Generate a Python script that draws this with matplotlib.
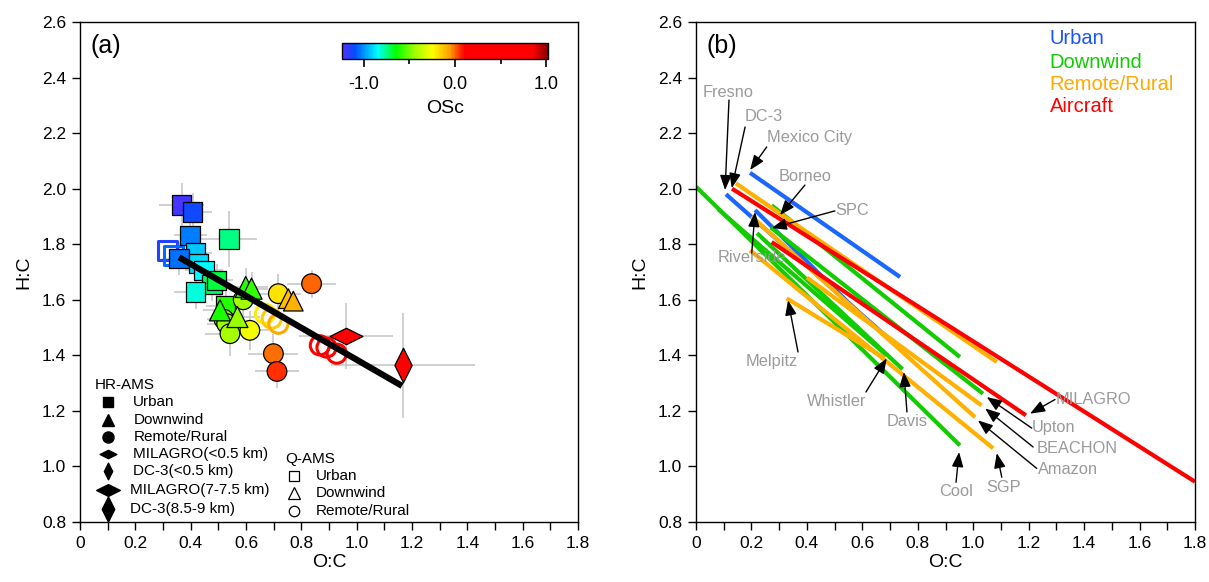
import matplotlib
matplotlib.use("Agg")
import matplotlib.pyplot as plt
import numpy as np
from matplotlib.colors import LinearSegmentedColormap, Normalize
from matplotlib.path import Path
from matplotlib.ticker import FixedLocator

plt.rcParams['font.family'] = ['Liberation Sans', 'DejaVu Sans']

# ---------------- Panel (a) data ----------------
# HR-AMS Urban (filled squares)
urb_oc = [0.367, 0.407, 0.398, 0.538, 0.418, 0.358, 0.428, 0.448, 0.476, 0.494, 0.418, 0.526]
urb_hc = [1.941, 1.916, 1.832, 1.818, 1.770, 1.748, 1.730, 1.706, 1.655, 1.670, 1.628, 1.577]
urb_osc = [-1.20, -1.12, -1.03, -0.75, -0.93, -1.05, -0.90, -0.85, -0.72, -0.70, -0.82, -0.60]
urb_xe = [0.08, 0.07, 0.06, 0.10, 0.06, 0.06, 0.06, 0.07, 0.07, 0.06, 0.08, 0.07]
urb_ye = [0.08, 0.07, 0.07, 0.10, 0.06, 0.06, 0.06, 0.06, 0.06, 0.06, 0.06, 0.07]
# Q-AMS Urban (open squares)
qurb_oc = [0.316, 0.337]
qurb_hc = [1.778, 1.760]
qurb_osc = [-1.15, -1.06]
# HR-AMS Downwind (filled triangles)
dw_oc = [0.599, 0.620, 0.506, 0.569]
dw_hc = [1.646, 1.640, 1.562, 1.538]
dw_osc = [-0.60, -0.58, -0.62, -0.45]
dw_xe = [0.08, 0.06, 0.06, 0.08]
dw_ye = [0.07, 0.06, 0.06, 0.07]
# Q-AMS Downwind triangles
qdw_oc = [0.753, 0.771]
qdw_hc = [1.604, 1.595]
qdw_osc = [-0.12, -0.10]
# HR-AMS Remote/Rural (filled circles)
rr_oc = [0.590, 0.520, 0.530, 0.542, 0.614, 0.717, 0.837, 0.699, 0.712]
rr_hc = [1.600, 1.530, 1.514, 1.478, 1.490, 1.622, 1.658, 1.406, 1.342]
rr_osc = [-0.42, -0.48, -0.45, -0.42, -0.27, -0.19, 0.00, -0.01, 0.05]
rr_xe = [0.06, 0.06, 0.07, 0.09, 0.07, 0.08, 0.09, 0.09, 0.08]
rr_ye = [0.06, 0.06, 0.06, 0.08, 0.07, 0.07, 0.05, 0.07, 0.06]
# Q-AMS Remote/Rural (open circles)
qrr_oc = [0.669, 0.693, 0.717, 0.867, 0.891, 0.928]
qrr_hc = [1.550, 1.532, 1.514, 1.436, 1.428, 1.406]
qrr_osc = [-0.21, -0.15, -0.08, 0.30, 0.35, 0.45]
# Aircraft high altitude
mil_hi_oc, mil_hi_hc, mil_hi_xe, mil_hi_ye, mil_hi_osc = [0.961], [1.470], [0.17], [0.12], [0.45]
dc3_hi_oc, dc3_hi_hc, dc3_hi_xe, dc3_hi_ye, dc3_hi_osc = [1.168], [1.364], [0.26], [0.19], [0.60]
# fitted line endpoints
fit_oc = [0.358, 1.164]
fit_hc = [1.753, 1.290]

# ---------------- Panel (b) data ----------------
urban_lines = [((0.195, 2.057), (0.736, 1.682)),
               ((0.108, 1.980), (0.682, 1.472)),
               ((0.213, 1.923), (0.610, 1.530))]
downwind_lines = [((0.000, 2.007), (0.952, 1.076)),
                  ((0.080, 1.926), (0.688, 1.400)),
                  ((0.220, 1.840), (0.745, 1.350)),
                  ((0.273, 1.940), (0.952, 1.394)),
                  ((0.270, 1.860), (1.035, 1.262))]
remote_lines = [((0.144, 2.019), (1.085, 1.376)),
                ((0.195, 1.778), (1.072, 1.065)),
                ((0.327, 1.605), (0.680, 1.390)),
                ((0.400, 1.680), (1.030, 1.220)),
                ((0.200, 1.900), (1.007, 1.177))]
aircraft_lines = [((0.130, 2.000), (1.800, 0.945)),
                  ((0.273, 1.808), (1.190, 1.184))]

site_names = ["Fresno", "DC-3", "Mexico City", "Borneo", "SPC", "Riverside", "Melpitz",
              "Whistler", "Davis", "Cool", "SGP", "Amazon", "BEACHON", "Upton", "MILAGRO"]
site_text = [(0.025, 2.348), (0.177, 2.261), (0.256, 2.186), (0.299, 2.045), (0.501, 1.923),
             (0.079, 1.753), (0.180, 1.378), (0.400, 1.234), (0.689, 1.162), (0.877, 0.910),
             (1.046, 0.924), (1.234, 0.989), (1.227, 1.065), (1.212, 1.141), (1.299, 1.241)]
site_from = [(0.119, 2.319), (0.177, 2.222), (0.255, 2.150), (0.393, 2.013), (0.501, 1.920),
             (0.201, 1.768), (0.368, 1.412), (0.613, 1.268), (0.761, 1.196), (0.938, 0.943),
             (1.103, 0.961), (1.229, 0.993), (1.216, 1.070), (1.211, 1.138), (1.295, 1.241)]
site_tip = [(0.105, 1.995), (0.129, 2.002), (0.195, 2.067), (0.303, 1.905), (0.273, 1.858),
            (0.213, 1.916), (0.332, 1.598), (0.688, 1.389), (0.750, 1.340), (0.949, 1.052),
            (1.085, 1.048), (1.017, 1.166), (1.043, 1.209), (1.049, 1.250), (1.205, 1.190)]

x_ticks = [0, 0.2, 0.4, 0.6, 0.8, 1.0, 1.2, 1.4, 1.6, 1.8]
x_labels = ['0', '0.2', '0.4', '0.6', '0.8', '1.0', '1.2', '1.4', '1.6', '1.8']
y_ticks = [0.8, 1.0, 1.2, 1.4, 1.6, 1.8, 2.0, 2.2, 2.4, 2.6]
y_labels = ['0.8', '1.0', '1.2', '1.4', '1.6', '1.8', '2.0', '2.2', '2.4', '2.6']

# ---------------- Figure ----------------
fig = plt.figure(figsize=(12.09, 5.82), dpi=100)
W, H = 1209, 582
ax1 = fig.add_axes([80 / W, 1 - 522 / H, 498 / W, 500 / H])
ax2 = fig.add_axes([696 / W, 1 - 522 / H, 499 / W, 500 / H])

vmin, vmax = -1.24, 1.02
def f(v):
    return (v - vmin) / (vmax - vmin)
cmap = LinearSegmentedColormap.from_list("osc", [
    (0.00, '#5a2aff'), (f(-1.10), '#0050ff'), (f(-0.85), '#00ffff'),
    (f(-0.65), '#00ff00'), (f(-0.45), '#99ff00'),
    (f(-0.25), '#ffff00'), (f(-0.05), '#ff9900'),
    (f(0.10), '#ff0000'), (f(0.85), '#ff0000'), (1.0, '#8b0000')])
norm = Normalize(vmin=vmin, vmax=vmax)

for ax in (ax1, ax2):
    ax.set_xlim(0, 1.8)
    ax.set_ylim(0.8, 2.6)
    ax.set_xticks(x_ticks)
    ax.set_xticklabels(x_labels)
    ax.xaxis.set_minor_locator(FixedLocator(np.arange(0.1, 1.8, 0.2)))
    ax.set_yticks(y_ticks)
    ax.set_yticklabels(y_labels)
    ax.tick_params(which='both', direction='out', length=6, width=1, labelsize=12.5,
                   top=False, right=False, pad=4)
    ax.set_xlabel('O:C', fontsize=14, labelpad=2)
    ax.set_ylabel('H:C', fontsize=14, labelpad=7)
    for s in ax.spines.values():
        s.set_linewidth(1)

ecol = '#c4c4c4'
for oc, hc, xe, ye in [(urb_oc, urb_hc, urb_xe, urb_ye), (dw_oc, dw_hc, dw_xe, dw_ye),
                       (rr_oc, rr_hc, rr_xe, rr_ye), (mil_hi_oc, mil_hi_hc, mil_hi_xe, mil_hi_ye),
                       (dc3_hi_oc, dc3_hi_hc, dc3_hi_xe, dc3_hi_ye)]:
    ax1.errorbar(oc, hc, xerr=xe, yerr=ye, fmt='none', ecolor=ecol, elinewidth=1.1, capsize=0, zorder=1)

hdiam = Path([(-1, 0), (0, 0.5), (1, 0), (0, -0.5), (-1, 0)],
             [Path.MOVETO, Path.LINETO, Path.LINETO, Path.LINETO, Path.CLOSEPOLY])
vdiam = Path([(0, -1), (0.5, 0), (0, 1), (-0.5, 0), (0, -1)],
             [Path.MOVETO, Path.LINETO, Path.LINETO, Path.LINETO, Path.CLOSEPOLY])

ax1.scatter(qurb_oc, qurb_hc, s=190, marker='s', facecolors='none',
            edgecolors=cmap(norm(qurb_osc)), linewidths=2.2, zorder=2)
ax1.scatter(qrr_oc, qrr_hc, s=190, marker='o', facecolors='none',
            edgecolors=cmap(norm(qrr_osc)), linewidths=2.2, zorder=2)
ax1.scatter(urb_oc, urb_hc, s=200, marker='s', c=urb_osc, cmap=cmap, norm=norm,
            edgecolors='black', linewidths=0.9, zorder=3)
ax1.scatter(rr_oc, rr_hc, s=200, marker='o', c=rr_osc, cmap=cmap, norm=norm,
            edgecolors='black', linewidths=0.9, zorder=3)
ax1.scatter(dw_oc, dw_hc, s=230, marker='^', c=dw_osc, cmap=cmap, norm=norm,
            edgecolors='black', linewidths=0.9, zorder=4)
ax1.scatter(qdw_oc, qdw_hc, s=200, marker='^', c=qdw_osc, cmap=cmap, norm=norm,
            edgecolors='black', linewidths=0.9, zorder=4)
ax1.scatter(mil_hi_oc, mil_hi_hc, s=560, marker=hdiam, c=mil_hi_osc, cmap=cmap, norm=norm,
            edgecolors='black', linewidths=0.9, zorder=4)
ax1.scatter(dc3_hi_oc, dc3_hi_hc, s=620, marker=vdiam, c=dc3_hi_osc, cmap=cmap, norm=norm,
            edgecolors='black', linewidths=0.9, zorder=4)
ax1.plot(fit_oc, fit_hc, color='black', lw=4.5, solid_capstyle='butt', zorder=5)

ax1.text(0.022, 0.952, '(a)', transform=ax1.transAxes, fontsize=18, va='center')

T = ax1.transAxes
ax1.text(0.030, 0.274, 'HR-AMS', transform=T, fontsize=11, va='center')
hr_rows = [('s', 7, 'Urban', 0.2406, 0.107), ('^', 8, 'Downwind', 0.204, 0.107),
           ('o', 8, 'Remote/Rural', 0.170, 0.107), (hdiam, 12, 'MILAGRO(<0.5 km)', 0.136, 0.107),
           (vdiam, 12, 'DC-3(<0.5 km)', 0.102, 0.107), (hdiam, 17, 'MILAGRO(7-7.5 km)', 0.064, 0.100),
           (vdiam, 18, 'DC-3(8.5-9 km)', 0.026, 0.100)]
for m, ms, lab, yy, tx in hr_rows:
    ax1.plot([0.0556], [yy], marker=m, ms=ms, color='black', ls='none', transform=T, clip_on=False)
    ax1.text(tx, yy, lab, transform=T, fontsize=11, va='center')
ax1.text(0.413, 0.126, 'Q-AMS', transform=T, fontsize=11, va='center')
for m, ms, lab, yy in [('s', 7.5, 'Urban', 0.092), ('^', 8, 'Downwind', 0.0574), ('o', 7.5, 'Remote/Rural', 0.0226)]:
    ax1.plot([0.430], [yy], marker=m, ms=ms, mfc='white', mec='black', mew=0.9, ls='none', transform=T)
    ax1.text(0.473, yy, lab, transform=T, fontsize=11, va='center')

cax = fig.add_axes([342 / W, 1 - 59 / H, 206 / W, 16 / H])
sm = plt.cm.ScalarMappable(cmap=cmap, norm=norm)
cb = fig.colorbar(sm, cax=cax, orientation='horizontal')
cb.set_ticks([-1.0, 0.0, 1.0])
cb.set_ticklabels(['-1.0', '0.0', '1.0'])
cb.ax.xaxis.set_minor_locator(FixedLocator([-0.5, 0.5]))
cb.ax.tick_params(which='major', length=6, width=1.2, labelsize=13, direction='out', pad=6)
cb.ax.tick_params(which='minor', length=3.5, width=1.2, direction='out')
cb.outline.set_linewidth(1)
cb.set_label('OSc', fontsize=14, labelpad=5)

groups = [(urban_lines, '#1a66ff'), (downwind_lines, '#11cc00'),
          (remote_lines, '#ffb000'), (aircraft_lines, '#ff0000')]
for lines, col in groups:
    for (x0, y0), (x1, y1) in lines:
        ax2.plot([x0, x1], [y0, y1], color=col, lw=3.0, solid_capstyle='butt', zorder=2)

gray = '#9a9a9a'
for name, tpos, fpos, tip in zip(site_names, site_text, site_from, site_tip):
    ax2.text(tpos[0], tpos[1], name, color=gray, fontsize=11.8, va='center', ha='left', zorder=4)
    ax2.annotate('', xy=tip, xytext=fpos,
                 arrowprops=dict(arrowstyle='-|>,head_length=0.9,head_width=0.35', color='black',
                                 lw=1.0, shrinkA=0, shrinkB=0), zorder=5)

ax2.text(0.022, 0.952, '(b)', transform=ax2.transAxes, fontsize=18, va='center')
for lab, col, yy in [('Urban', '#1a53ff', 0.966), ('Downwind', '#11cc00', 0.920),
                     ('Remote/Rural', '#ffaa00', 0.874), ('Aircraft', '#ff0000', 0.830)]:
    ax2.text(0.709, yy, lab, color=col, fontsize=14.5, va='center', transform=ax2.transAxes)

fig.savefig('out.png', dpi=100)
